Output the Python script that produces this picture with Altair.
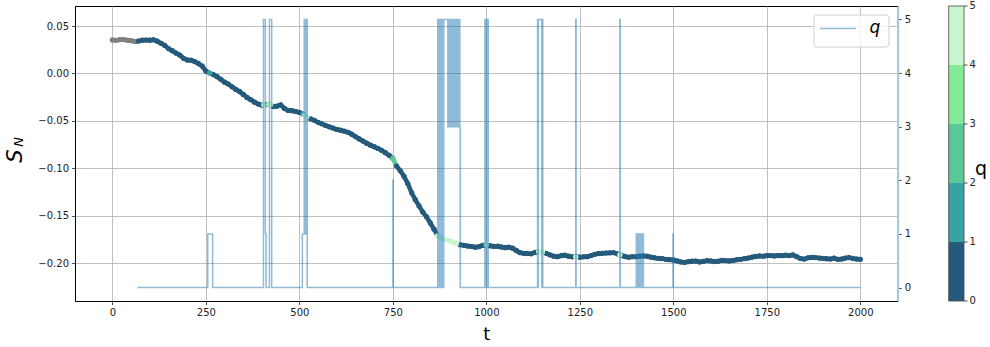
import altair as alt
import pandas as pd
import numpy as np

# ---------------- data ----------------
t_s = [0, 10, 20, 30, 40, 50, 60, 70, 80, 90, 100, 110, 120, 130, 140, 150, 160, 170, 180, 190,
       200, 210, 220, 230, 240, 250, 260, 270, 280, 290, 300, 310, 320, 330, 340, 350, 360, 370, 380, 390,
       400, 405, 410, 420, 423, 430, 440, 450, 460, 470, 480, 490, 500, 510, 515, 520, 530, 540, 550, 560,
       570, 580, 590, 600, 610, 620, 630, 640, 650, 660, 670, 680, 690, 700, 710, 720, 730, 740, 750, 760,
       770, 780, 790, 800, 810, 820, 830, 840, 850, 860, 870, 880, 890, 900, 910, 920, 930, 940, 950, 960,
       970, 980, 990, 1000, 1010, 1020, 1030, 1040, 1050, 1060, 1070, 1080, 1090, 1100, 1110, 1120, 1130, 1140, 1143, 1150,
       1160, 1170, 1180, 1190, 1200, 1210, 1220, 1230, 1239, 1240, 1250, 1260, 1270, 1280, 1290, 1300, 1310, 1320, 1330, 1340,
       1350, 1357, 1360, 1370, 1380, 1390, 1400, 1410, 1420, 1430, 1440, 1450, 1460, 1470, 1480, 1490, 1500, 1510, 1520, 1530,
       1540, 1550, 1560, 1570, 1580, 1590, 1600, 1610, 1620, 1630, 1640, 1650, 1660, 1670, 1680, 1690, 1700, 1710, 1720, 1730,
       1740, 1750, 1760, 1770, 1780, 1790, 1800, 1810, 1820, 1830, 1840, 1850, 1860, 1870, 1880, 1890, 1900, 1910, 1920, 1930,
       1940, 1950, 1960, 1970, 1980, 1990, 2000]
s_n = [0.0353, 0.0349, 0.0356, 0.0357, 0.0350, 0.0346, 0.0338, 0.0342, 0.0350, 0.0352, 0.0350, 0.0355, 0.0340, 0.0318, 0.0296, 0.0262, 0.0240, 0.0215, 0.0194, 0.0160,
       0.0142, 0.0140, 0.0125, 0.0105, 0.0078, 0.0025, 0.0004, -0.0012, -0.0034, -0.0062, -0.0092, -0.0112, -0.0140, -0.0168, -0.0190, -0.0221, -0.0253, -0.0276, -0.0302, -0.0322,
       -0.0334, -0.0332, -0.0328, -0.0322, -0.0326, -0.0348, -0.0344, -0.0330, -0.0368, -0.0389, -0.0392, -0.0400, -0.0410, -0.0428, -0.0438, -0.0455, -0.0478, -0.0494, -0.0515, -0.0530,
       -0.0548, -0.0562, -0.0575, -0.0590, -0.0598, -0.0608, -0.0620, -0.0640, -0.0665, -0.0690, -0.0712, -0.0735, -0.0755, -0.0772, -0.0790, -0.0810, -0.0835, -0.0862, -0.0895, -0.0975,
       -0.1025, -0.1085, -0.1160, -0.1255, -0.1330, -0.1395, -0.1460, -0.1510, -0.1575, -0.1640, -0.1712, -0.1735, -0.1750, -0.1762, -0.1772, -0.1790, -0.1805, -0.1810, -0.1818, -0.1822,
       -0.1830, -0.1825, -0.1812, -0.1805, -0.1815, -0.1822, -0.1820, -0.1828, -0.1835, -0.1830, -0.1840, -0.1865, -0.1888, -0.1895, -0.1898, -0.1900, -0.1885, -0.1878, -0.1877, -0.1880,
       -0.1895, -0.1910, -0.1925, -0.1930, -0.1920, -0.1915, -0.1925, -0.1932, -0.1930, -0.1928, -0.1935, -0.1932, -0.1930, -0.1918, -0.1905, -0.1898, -0.1895, -0.1892, -0.1890, -0.1888,
       -0.1900, -0.1910, -0.1915, -0.1928, -0.1935, -0.1930, -0.1932, -0.1925, -0.1922, -0.1925, -0.1935, -0.1942, -0.1948, -0.1950, -0.1958, -0.1962, -0.1965, -0.1975, -0.1985, -0.1990,
       -0.1983, -0.1978, -0.1976, -0.1985, -0.1980, -0.1972, -0.1975, -0.1982, -0.1978, -0.1970, -0.1972, -0.1975, -0.1970, -0.1962, -0.1958, -0.1950, -0.1945, -0.1935, -0.1928, -0.1922,
       -0.1925, -0.1920, -0.1918, -0.1922, -0.1918, -0.1920, -0.1915, -0.1918, -0.1912, -0.1930, -0.1950, -0.1955, -0.1942, -0.1938, -0.1940, -0.1945, -0.1948, -0.1952, -0.1955, -0.1945,
       -0.1958, -0.1955, -0.1945, -0.1940, -0.1948, -0.1955, -0.1958]

q_t = [67, 255, 268, 404, 409, 411, 420, 426, 508, 513, 516, 517, 521, 750, 751,
       870, 871, 872, 873, 874, 875, 876, 877, 878, 879, 880, 881, 882, 883, 884, 885, 886,
       897, 898, 899, 900, 901, 902, 903, 904, 905, 906, 907, 908, 909, 910, 911, 912, 913,
       914, 915, 916, 917, 918, 919, 920, 921, 922, 923, 924, 925, 926, 927, 928, 929, 930,
       996, 997, 998, 999, 1000, 1001, 1002, 1003, 1004, 1005,
       1137, 1138, 1139, 1148, 1149, 1151,
       1239, 1240, 1357, 1358,
       1401, 1402, 1403, 1404, 1405, 1406, 1407, 1408, 1409, 1410,
       1411, 1412, 1413, 1414, 1415, 1416, 1417, 1418, 1419, 1420,
       1499, 1500, 2000]
q_v = [0, 1, 0, 5, 1, 0, 5, 0, 1, 5, 1, 5, 0, 2, 0,
       5, 0, 5, 0, 5, 0, 5, 0, 5, 0, 5, 0, 5, 0, 5, 0, 5,
       3, 5, 3, 5, 3, 5, 3, 5, 3, 5, 3, 5, 3, 5, 3, 5, 3,
       5, 3, 5, 3, 5, 3, 5, 3, 5, 3, 5, 3, 5, 3, 5, 3, 0,
       5, 0, 5, 0, 5, 0, 5, 0, 5, 0,
       5, 0, 5, 0, 5, 0,
       5, 0, 5, 0,
       1, 0, 1, 0, 1, 0, 1, 0, 1, 0,
       1, 0, 1, 0, 1, 0, 1, 0, 1, 0,
       1, 0, 0]

cb_lo = [0, 1, 2, 3, 4]
cb_colors = ["#245a7c", "#37a3a3", "#5ac898", "#85ea98", "#c9f7cd"]
cb_ticks = [0, 1, 2, 3, 4, 5]
x_ticks = [0, 250, 500, 750, 1000, 1250, 1500, 1750, 2000]
y_ticks = [-0.20, -0.15, -0.10, -0.05, 0.00, 0.05]
q_ticks = [0, 1, 2, 3, 4, 5]
nan_color = "#808080"
q_line_color = "#1f77b4"

# ---------------- frames ----------------
W, H = 822.7, 295
sdf = pd.DataFrame({"t": np.array(t_s, dtype=float), "S": s_n}).sort_values("t")
qdf = pd.DataFrame({"tq": np.array(q_t, dtype=float), "q": np.array(q_v, dtype=float)})
m = pd.merge_asof(sdf, qdf, left_on="t", right_on="tq", direction="backward")
m["cls"] = np.where(m["q"].isna(), "g", m["q"].fillna(0).clip(0, 4).astype(int).astype(str))
m["ord"] = np.where(m["q"].isna(), -1, m["q"].fillna(0))

seg = m.copy()
seg["t2"] = seg["t"].shift(-1)
seg["S2"] = seg["S"].shift(-1)
seg = seg.dropna(subset=["t2"])
seg = seg.sort_values("ord")
pts = m.sort_values("ord")

qline_df = pd.DataFrame({"t": q_t, "q": q_v})
cb_df = pd.DataFrame({"lo": cb_lo, "hi": [v + 1 for v in cb_lo], "col": cb_colors})
cbt_df = pd.DataFrame({"v": cb_ticks, "lab": [str(v) for v in cb_ticks]})
one = pd.DataFrame({"a": [0]})

xs = alt.Scale(domain=[-100, 2100], nice=False, zero=False)
ys = alt.Scale(domain=[-0.2397, 0.0711], nice=False, zero=False)
qs = alt.Scale(domain=[-0.25, 5.25], nice=False, zero=False)
cbs = alt.Scale(domain=[0, 5], nice=False, zero=False)
cscale = alt.Scale(domain=["g", "0", "1", "2", "3", "4"], range=[nan_color] + cb_colors)

xaxis = alt.Axis(values=x_ticks, format="d", title="t", titleFontSize=18, titleFontWeight="normal",
                 titleColor="#000", titlePadding=8, grid=True)
yaxis = alt.Axis(values=y_ticks, format=".2f", title=None, grid=True)

seg_l = alt.Chart(seg).mark_rule(strokeWidth=4.5, strokeCap="round").encode(
    x=alt.X("t:Q", scale=xs, axis=xaxis),
    y=alt.Y("S:Q", scale=ys, axis=yaxis),
    x2="t2:Q", y2="S2:Q",
    color=alt.Color("cls:N", scale=cscale, legend=None),
)
pts_l = alt.Chart(pts).mark_circle(size=28, opacity=1).encode(
    x=alt.X("t:Q", scale=xs),
    y=alt.Y("S:Q", scale=ys),
    color=alt.Color("cls:N", scale=cscale, legend=None),
)
s_txt = alt.Chart(one).mark_text(text="S", angle=270, fontSize=21, fontStyle="italic", font="DejaVu Sans",
                                 align="center", baseline="middle", color="#000").encode(
    x=alt.value(-59.5), y=alt.value(150))
n_txt = alt.Chart(one).mark_text(text="N", angle=270, fontSize=13, fontStyle="italic", font="DejaVu Sans",
                                 align="center", baseline="middle", color="#000").encode(
    x=alt.value(-56.5), y=alt.value(136))
main = alt.layer(seg_l, pts_l, s_txt, n_txt)

qline = alt.Chart(qline_df).mark_line(interpolate="step-after", color=q_line_color, opacity=0.5,
                                      strokeWidth=1.5).encode(
    x=alt.X("t:Q", scale=xs),
    y=alt.Y("q:Q", scale=qs, axis=alt.Axis(orient="right", values=q_ticks, format="d", title=None,
                                             grid=False, domainColor="#a6cee3", domainWidth=2)),
)

cb_rect = alt.Chart(cb_df).mark_rect().encode(
    x=alt.value(873.7), x2=alt.value(889),
    y=alt.Y("lo:Q", scale=cbs, axis=None), y2="hi:Q",
    fill=alt.Fill("col:N", scale=None),
)
cb_out = alt.Chart(pd.DataFrame({"lo": [0], "hi": [5]})).mark_rect(fillOpacity=0, stroke="#444",
                                                                   strokeWidth=0.8).encode(
    x=alt.value(873.7), x2=alt.value(889),
    y=alt.Y("lo:Q", scale=cbs, axis=None), y2="hi:Q",
)
cb_tick = alt.Chart(cbt_df).mark_rule(color="#222", strokeWidth=0.8).encode(
    x=alt.value(889), x2=alt.value(892.5),
    y=alt.Y("v:Q", scale=cbs, axis=None),
)
cb_lab = alt.Chart(cbt_df).mark_text(align="left", baseline="middle", fontSize=10, font="DejaVu Sans",
                                     color="#222").encode(
    x=alt.value(894.5),
    y=alt.Y("v:Q", scale=cbs, axis=None),
    text="lab:N",
)
cb_title = alt.Chart(one).mark_text(text="q", fontSize=19, font="DejaVu Sans", align="center",
                                    baseline="middle", color="#000").encode(
    x=alt.value(906), y=alt.value(163))
cbar = alt.layer(cb_rect, cb_out, cb_tick, cb_lab, cb_title)

leg_box = alt.Chart(one).mark_rect(fill="#ffffff", fillOpacity=0.8, stroke="#d0d0d0", strokeWidth=1,
                                   cornerRadius=3).encode(
    x=alt.value(739), x2=alt.value(814), y=alt.value(9), y2=alt.value(41))
leg_line = alt.Chart(one).mark_rule(color=q_line_color, opacity=0.5, strokeWidth=1.5).encode(
    x=alt.value(745), x2=alt.value(781), y=alt.value(22.5))
leg_txt = alt.Chart(one).mark_text(text="q", fontSize=17, fontStyle="italic", font="DejaVu Sans",
                                   align="center", baseline="middle", color="#000").encode(
    x=alt.value(800), y=alt.value(22))
legend = alt.layer(leg_box, leg_line, leg_txt)

chart = alt.layer(main, qline, cbar, legend).resolve_scale(
    y="independent", color="independent", fill="independent"
).properties(
    width=W, height=H,
    autosize=alt.AutoSizeParams(type="none"),
    padding={"left": 75, "top": 6, "right": 990 - 75 - W, "bottom": 347 - 6 - H},
    background="#ffffff",
).configure_view(stroke="#000", strokeWidth=1).configure_axis(
    labelFont="DejaVu Sans", labelFontSize=10, labelColor="#222", tickColor="#222", tickSize=3.5,
    tickWidth=0.8, labelPadding=3, domainColor="#000", domainWidth=1, gridColor="#b0b0b0",
    gridWidth=0.8, titleFont="DejaVu Sans",
)

chart.save("out.html", embed_options={"renderer": "svg", "actions": False})
